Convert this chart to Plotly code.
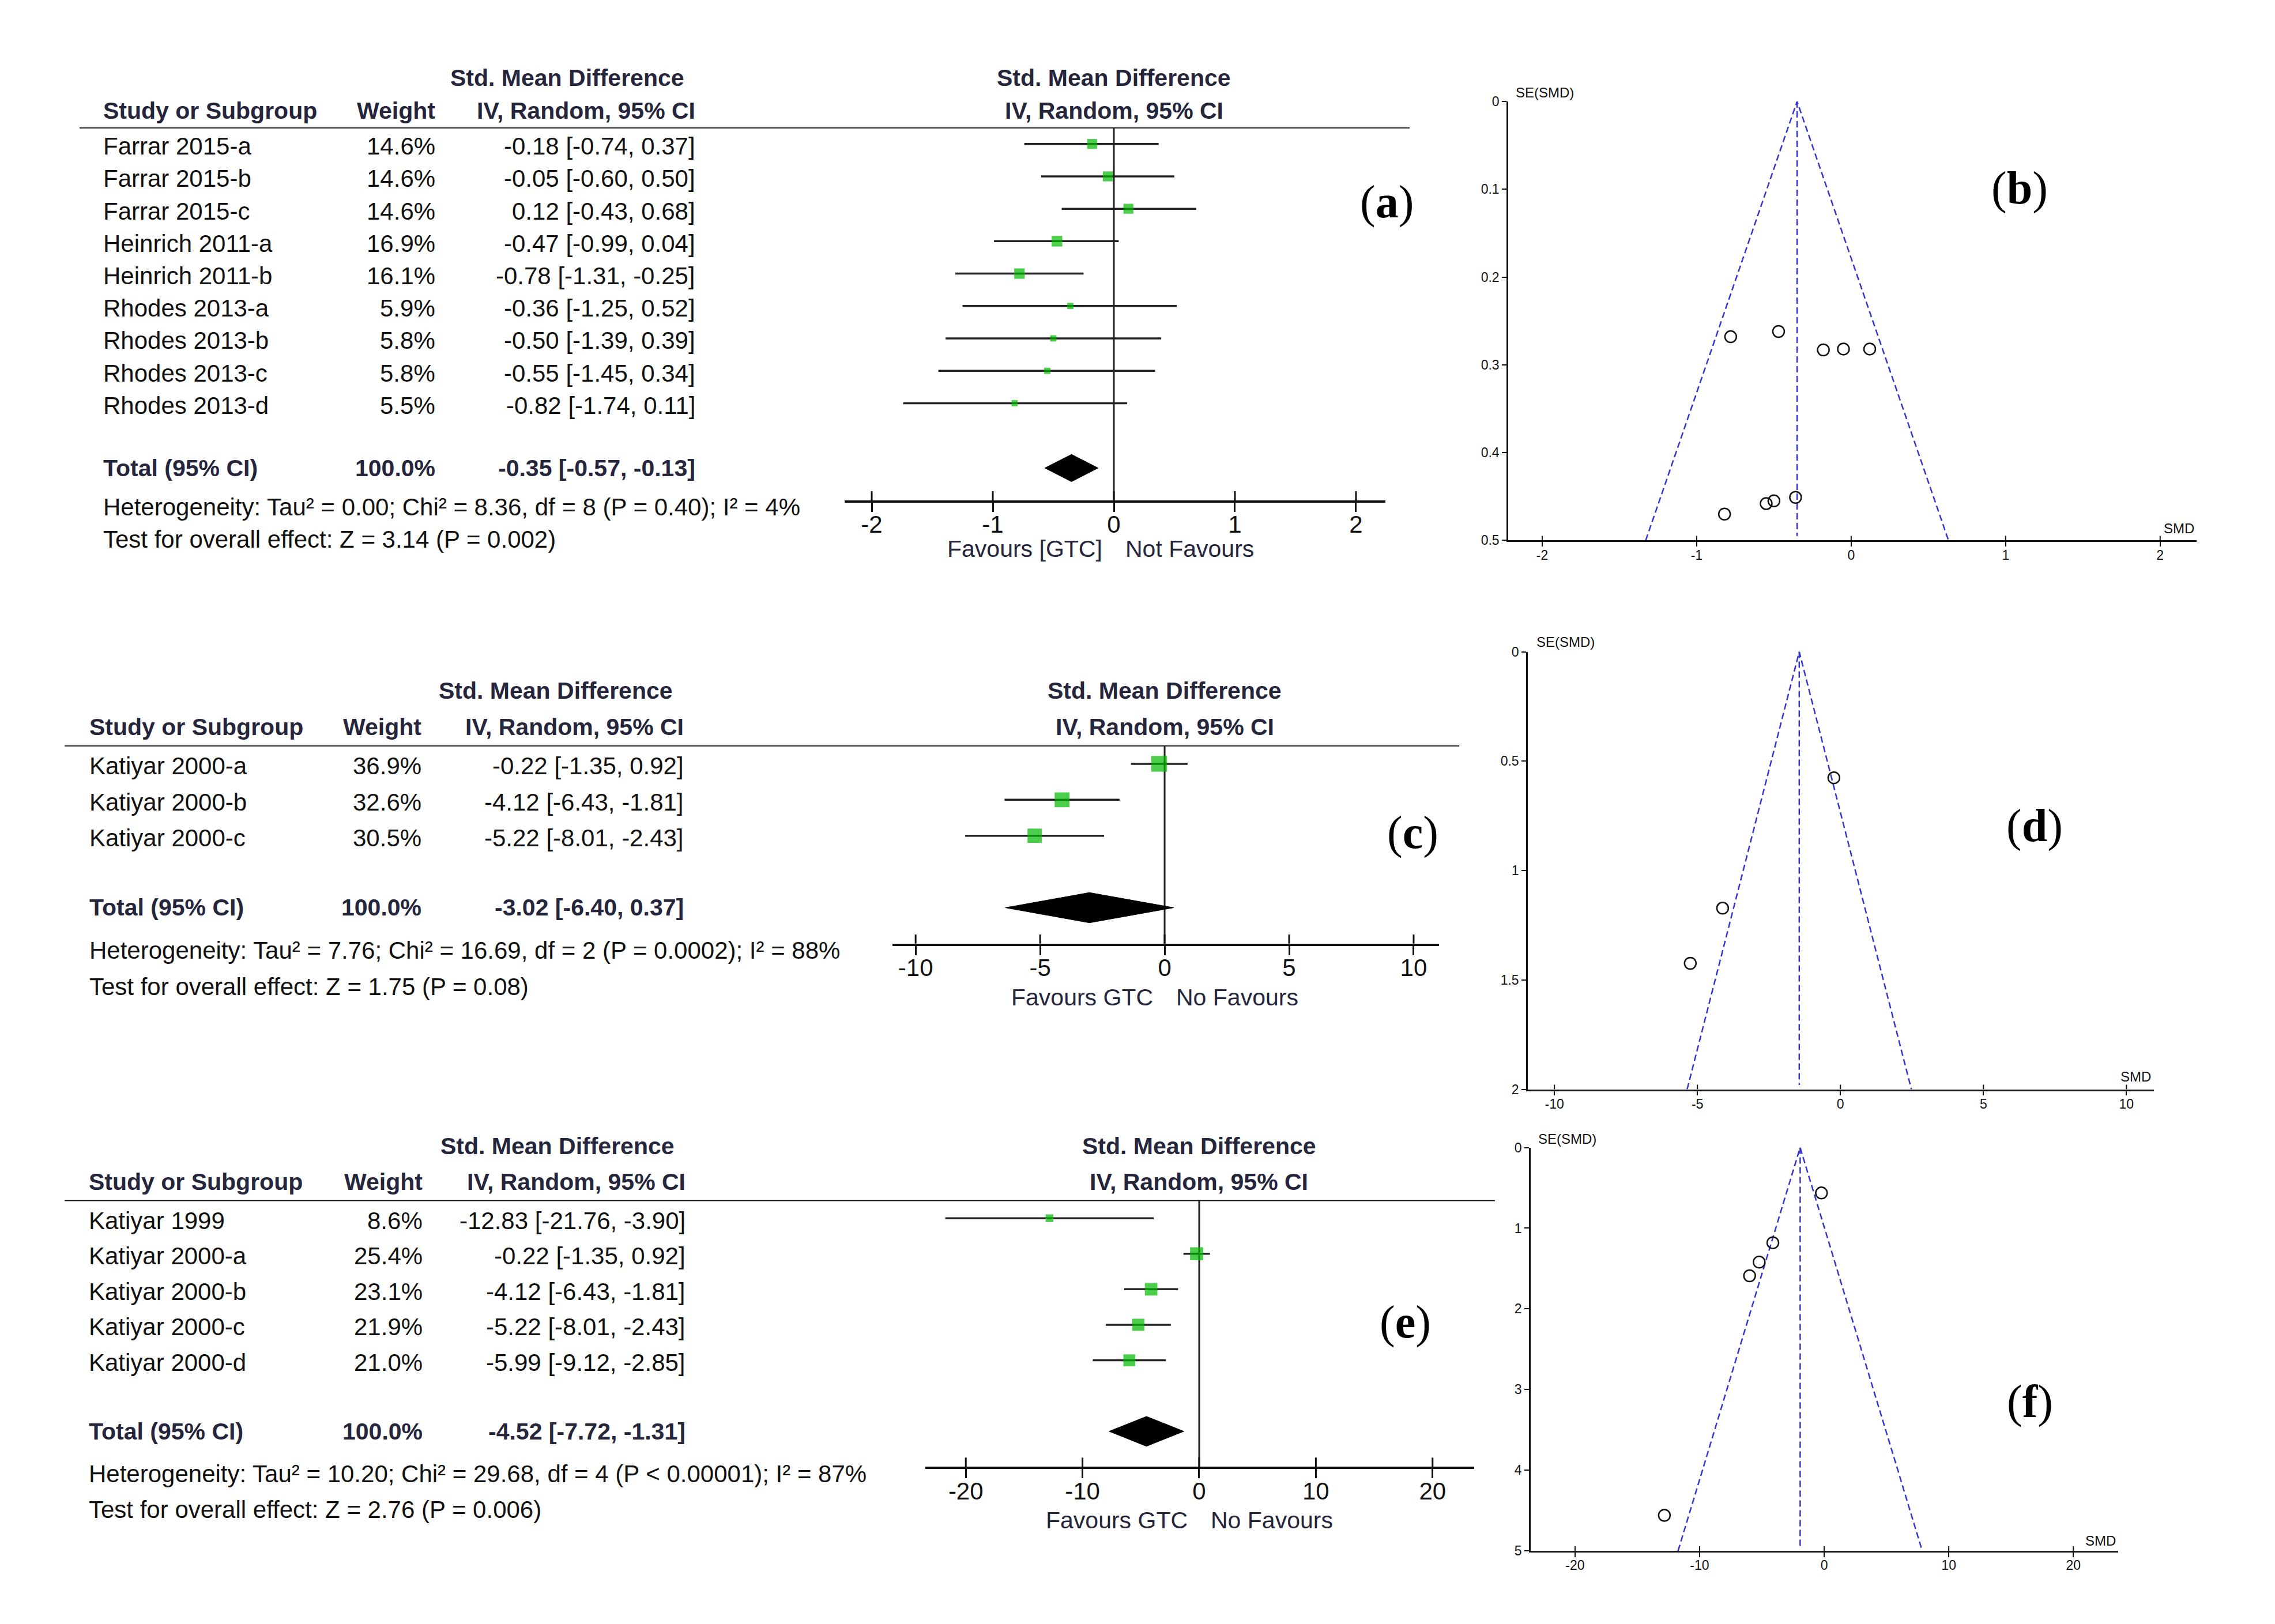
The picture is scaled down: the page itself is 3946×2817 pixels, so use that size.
import plotly.graph_objects as go

# ---------- data ----------
# (a) GTC vs control, SMD
studies_a = ["Farrar 2015-a", "Farrar 2015-b", "Farrar 2015-c", "Heinrich 2011-a", "Heinrich 2011-b",
             "Rhodes 2013-a", "Rhodes 2013-b", "Rhodes 2013-c", "Rhodes 2013-d"]
weight_a = [14.6, 14.6, 14.6, 16.9, 16.1, 5.9, 5.8, 5.8, 5.5]
smd_a = [-0.18, -0.05, 0.12, -0.47, -0.78, -0.36, -0.50, -0.55, -0.82]
lo_a = [-0.74, -0.60, -0.43, -0.99, -1.31, -1.25, -1.39, -1.45, -1.74]
hi_a = [0.37, 0.50, 0.68, 0.04, -0.25, 0.52, 0.39, 0.34, 0.11]
total_a = [-0.35, -0.57, -0.13]
het_a = "Heterogeneity: Tau² = 0.00; Chi² = 8.36, df = 8 (P = 0.40); I² = 4%"
test_a = "Test for overall effect: Z = 3.14 (P = 0.002)"
fav_a = ["Favours [GTC]", "Not Favours"]
ticks_a = [-2, -1, 0, 1, 2]
ticktext_a = ["-2", "-1", "0", "1", "2"]

# (c)
studies_c = ["Katiyar 2000-a", "Katiyar 2000-b", "Katiyar 2000-c"]
weight_c = [36.9, 32.6, 30.5]
smd_c = [-0.22, -4.12, -5.22]
lo_c = [-1.35, -6.43, -8.01]
hi_c = [0.92, -1.81, -2.43]
total_c = [-3.02, -6.40, 0.37]
het_c = "Heterogeneity: Tau² = 7.76; Chi² = 16.69, df = 2 (P = 0.0002); I² = 88%"
test_c = "Test for overall effect: Z = 1.75 (P = 0.08)"
fav_c = ["Favours GTC", "No Favours"]
ticks_c = [-10, -5, 0, 5, 10]
ticktext_c = ["-10", "-5", "0", "5", "10"]

# (e)
studies_e = ["Katiyar 1999", "Katiyar 2000-a", "Katiyar 2000-b", "Katiyar 2000-c", "Katiyar 2000-d"]
weight_e = [8.6, 25.4, 23.1, 21.9, 21.0]
smd_e = [-12.83, -0.22, -4.12, -5.22, -5.99]
lo_e = [-21.76, -1.35, -6.43, -8.01, -9.12]
hi_e = [-3.90, 0.92, -1.81, -2.43, -2.85]
total_e = [-4.52, -7.72, -1.31]
het_e = "Heterogeneity: Tau² = 10.20; Chi² = 29.68, df = 4 (P < 0.00001); I² = 87%"
test_e = "Test for overall effect: Z = 2.76 (P = 0.006)"
fav_e = ["Favours GTC", "No Favours"]
ticks_e = [-20, -10, 0, 10, 20]
ticktext_e = ["-20", "-10", "0", "10", "20"]

# funnel plots: SMD vs SE(SMD)
se_b = [0.283, 0.282, 0.282, 0.262, 0.268, 0.451, 0.455, 0.458, 0.470]
center_b, semax_b = -0.35, 0.5
xticks_b = [-2, -1, 0, 1, 2]
xticktext_b = ["-2", "-1", "0", "1", "2"]
yticks_b = [0, 0.1, 0.2, 0.3, 0.4, 0.5]
yticktext_b = ["0", "0.1", "0.2", "0.3", "0.4", "0.5"]

smd_d = [-0.23, -4.12, -5.25]
se_d = [0.576, 1.172, 1.424]
center_d, semax_d = -1.44, 2
xticks_d = [-10, -5, 0, 5, 10]
xticktext_d = ["-10", "-5", "0", "5", "10"]
yticks_d = [0, 0.5, 1, 1.5, 2]
yticktext_d = ["0", "0.5", "1", "1.5", "2"]

se_f = [4.56, 0.563, 1.18, 1.42, 1.59]
center_f, semax_f = -1.93, 5
xticks_f = [-20, -10, 0, 10, 20]
xticktext_f = ["-20", "-10", "0", "10", "20"]
yticks_f = [0, 1, 2, 3, 4, 5]
yticktext_f = ["0", "1", "2", "3", "4", "5"]

# ---------- page geometry (pixels of the 3946x2817 page) ----------
W, H = 3946, 2817
FONT = "Arial, Liberation Sans, sans-serif"
INK = "#111111"
HEAD = "#25253c"
GREEN = "#00b800"
BLUE = "#3434d0"


def fx(p):
    return p / W


def fy(p):
    return 1 - p / H


fig = go.Figure()
annotations = []
shapes = []
layout_axes = {}


def ann(text, x, y, xanchor="left", size=42, bold=False, color=INK, yshift=-4):
    # x, y in page pixels
    if bold:
        text = "<b>" + text + "</b>"
    annotations.append(dict(text=text, x=fx(x), y=fy(y), xref="paper", yref="paper", xanchor=xanchor,
                            yanchor="middle", showarrow=False, yshift=yshift,
                            font=dict(size=size, family=FONT, color=color)))


def add_forest(k, names, weights, est, lo, hi, tot, het, test, fav, xr, ticks, ticktext,
               xdom, ydom, cols):
    xa = "x" if k == 1 else f"x{k}"
    ya = "y" if k == 1 else f"y{k}"
    n = len(names)
    rows = list(range(n))
    ytot = n + 1
    ybot = n + 2
    ytop = -0.51

    def row_px(r):
        return ydom[0] + (r - ytop) / (ybot - ytop) * (ydom[1] - ydom[0])

    zero_px = xdom[0] + (0 - xr[0]) / (xr[1] - xr[0]) * (xdom[1] - xdom[0])

    fig.add_trace(go.Scatter(x=[0, 0], y=[ytop, ybot], mode="lines", line=dict(color="#222", width=3),
                             xaxis=xa, yaxis=ya, hoverinfo="skip", showlegend=False))
    xs, ys = [], []
    for i in rows:
        xs += [lo[i], hi[i], None]
        ys += [i, i, None]
    fig.add_trace(go.Scatter(x=xs, y=ys, mode="lines", line=dict(color="#222", width=3.5),
                             xaxis=xa, yaxis=ya, hoverinfo="skip", showlegend=False))
    fig.add_trace(go.Scatter(x=est, y=rows, mode="markers",
                             marker=dict(symbol="square", color=GREEN, size=[4.5 * w ** 0.5 for w in weights],
                                         line=dict(width=0)),
                             xaxis=xa, yaxis=ya, hoverinfo="skip", showlegend=False))
    e, l, h = tot
    fig.add_trace(go.Scatter(x=[l, e, h, e, l], y=[ytot, ytot - 0.42, ytot, ytot + 0.42, ytot],
                             mode="lines", fill="toself", fillcolor="black", line=dict(color="black", width=1),
                             xaxis=xa, yaxis=ya, hoverinfo="skip", showlegend=False))

    layout_axes["xaxis" if k == 1 else f"xaxis{k}"] = dict(
        domain=[fx(xdom[0]), fx(xdom[1])], range=xr, anchor=ya, showline=True, linewidth=3.5, linecolor=INK,
        ticks="outside", ticklen=16, tickwidth=3, tickcolor=INK, tickvals=ticks, ticktext=ticktext,
        ticklabelstandoff=-14,
        tickfont=dict(size=42, family=FONT, color=INK), showgrid=False, zeroline=False, fixedrange=True)
    layout_axes["yaxis" if k == 1 else f"yaxis{k}"] = dict(
        domain=[fy(ydom[1]), fy(ydom[0])], range=[ybot, ytop], visible=False, anchor=xa, fixedrange=True)

    # tick marks cross the axis line
    for v in ticks:
        shapes.append(dict(type="line", xref=xa, yref=ya, x0=v, x1=v, ysizemode="pixel", yanchor=ybot,
                           y0=0, y1=16, line=dict(color=INK, width=3)))
    # header rule
    shapes.append(dict(type="line", xref="paper", yref=ya, x0=fx(cols["rule"][0]), x1=fx(cols["rule"][1]),
                       y0=ytop, y1=ytop, line=dict(color=INK, width=3.5)))

    # table
    hs = 41
    ann("Std. Mean Difference", cols["ci_c"], row_px(-2), "center", hs, True, HEAD, 2)
    ann("Std. Mean Difference", zero_px, row_px(-2), "center", hs, True, HEAD, 2)
    ann("Study or Subgroup", cols["name"], row_px(-1), "left", hs, True, HEAD, 2)
    ann("Weight", cols["w"], row_px(-1), "right", hs, True, HEAD, 2)
    ann("IV, Random, 95% CI", cols["ci"], row_px(-1), "right", hs, True, HEAD, 2)
    ann("IV, Random, 95% CI", zero_px, row_px(-1), "center", hs, True, HEAD, 2)
    for i in rows:
        ann(names[i], cols["name"], row_px(i), "left")
        ann(f"{weights[i]:.1f}%", cols["w"], row_px(i), "right")
        ann(f"{est[i]:.2f} [{lo[i]:.2f}, {hi[i]:.2f}]", cols["ci"], row_px(i), "right")
    ann("Total (95% CI)", cols["name"], row_px(ytot), "left", 41, True, HEAD, 0)
    ann("100.0%", cols["w"], row_px(ytot), "right", 41, True, HEAD, 0)
    ann(f"{e:.2f} [{l:.2f}, {h:.2f}]", cols["ci"], row_px(ytot), "right", 41, True, HEAD, 0)
    ann(het, cols["name"], row_px(n + 2.13), "left")
    ann(test, cols["name"], row_px(n + 3.13), "left")
    ann(fav[0], zero_px - 18, row_px(n + 3.5), "right", 41, False, HEAD, 0)
    ann(fav[1], zero_px + 18, row_px(n + 3.5), "left", 41, False, HEAD, 0)


def add_funnel(k, est, se, center, semax, xr, xticks, xtt, yticks, ytt, xdom, ydom, se_pos, smd_pos):
    xa, ya = f"x{k}", f"y{k}"
    fig.add_trace(go.Scatter(x=[center - 1.96 * semax, center, center + 1.96 * semax], y=[semax, 0, semax],
                             mode="lines", line=dict(color=BLUE, width=2.5, dash="11px,6px"),
                             xaxis=xa, yaxis=ya, hoverinfo="skip", showlegend=False))
    fig.add_trace(go.Scatter(x=[center, center], y=[0, semax * 0.99], mode="lines",
                             line=dict(color=BLUE, width=2.5, dash="11px,6px"),
                             xaxis=xa, yaxis=ya, hoverinfo="skip", showlegend=False))
    fig.add_trace(go.Scatter(x=est, y=se, mode="markers",
                             marker=dict(symbol="circle-open", size=20, color=INK, line=dict(width=2.5)),
                             xaxis=xa, yaxis=ya, hoverinfo="skip", showlegend=False))
    layout_axes[f"xaxis{k}"] = dict(
        domain=[fx(xdom[0]), fx(xdom[1])], range=xr, anchor=ya, showline=True, linewidth=2.5, linecolor=INK,
        ticks="outside", ticklen=8, tickwidth=2, tickcolor=INK, tickvals=xticks, ticktext=xtt,
        ticklabelstandoff=-5,
        tickfont=dict(size=23, family=FONT, color=INK), showgrid=False, zeroline=False, fixedrange=True)
    layout_axes[f"yaxis{k}"] = dict(
        domain=[fy(ydom[1]), fy(ydom[0])], range=[semax, 0], anchor=xa, showline=True, linewidth=2.5,
        linecolor=INK, ticks="outside", ticklen=8, tickwidth=2, tickcolor=INK, tickvals=yticks, ticktext=ytt,
        tickfont=dict(size=23, family=FONT, color=INK), showgrid=False, zeroline=False, fixedrange=True)
    for v in xticks:
        shapes.append(dict(type="line", xref=xa, yref=ya, x0=v, x1=v, ysizemode="pixel", yanchor=semax,
                           y0=0, y1=8, line=dict(color=INK, width=2)))
    ann("SE(SMD)", se_pos[0], se_pos[1], "left", 24, yshift=0)
    ann("SMD", smd_pos[0], smd_pos[1], "right", 24, yshift=0)


add_forest(1, studies_a, weight_a, smd_a, lo_a, hi_a, total_a, het_a, test_a, fav_a, [-2.224, 2.243],
           ticks_a, ticktext_a, (1465, 2403), (210, 863),
           dict(rule=(138, 2445), name=177, w=757, ci=1208, ci_c=984))
add_forest(2, studies_c, weight_c, smd_c, lo_c, hi_c, total_c, het_c, test_c, fav_c, [-10.93, 11.02],
           ticks_c, ticktext_c, (1548, 2496), (1292, 1639),
           dict(rule=(112, 2531), name=153, w=733, ci=1188, ci_c=964))
add_forest(3, studies_e, weight_e, smd_e, lo_e, hi_e, total_e, het_e, test_e, fav_e, [-23.47, 23.57],
           ticks_e, ticktext_e, (1605, 2557), (2088, 2555),
           dict(rule=(112, 2593), name=152, w=735, ci=1191, ci_c=967))

add_funnel(4, smd_a, se_b, center_b, semax_b, [-2.22, 2.236], xticks_b, xticktext_b, yticks_b, yticktext_b,
           (2616, 3810), (164.5, 933), (2627, 149), (3808, 912))
add_funnel(5, smd_d, se_d, center_d, semax_d, [-10.93, 10.96], xticks_d, xticktext_d, yticks_d, yticktext_d,
           (2650, 3736), (1128, 1894), (2663, 1111), (3733, 1872))
add_funnel(6, smd_e, se_f, center_f, semax_f, [-23.56, 23.6], xticks_f, xticktext_f, yticks_f, yticktext_f,
           (2655, 3674), (1996, 2702), (2666, 1981), (3672, 2684))

# panel letters
for letter, (x, y) in zip("abcdef", [(2405, 341), (3503, 316), (2450, 1445),
                                    (3529, 1433), (2437, 2302), (3521, 2441)]):
    annotations.append(dict(text=f"(<b>{letter}</b>)", x=fx(x), y=fy(y), xref="paper", yref="paper",
                            xanchor="center", yanchor="middle", showarrow=False,
                            font=dict(size=80, family="Liberation Serif, Times New Roman, serif", color="#000")))

fig.update_layout(width=W, height=H, autosize=False, margin=dict(l=0, r=0, t=0, b=0),
                  paper_bgcolor="white", plot_bgcolor="white", showlegend=False,
                  annotations=annotations, shapes=shapes, **layout_axes)

fig.write_html("out.html", config={"displayModeBar": False},
               post_script="document.body.style.margin='0';")
